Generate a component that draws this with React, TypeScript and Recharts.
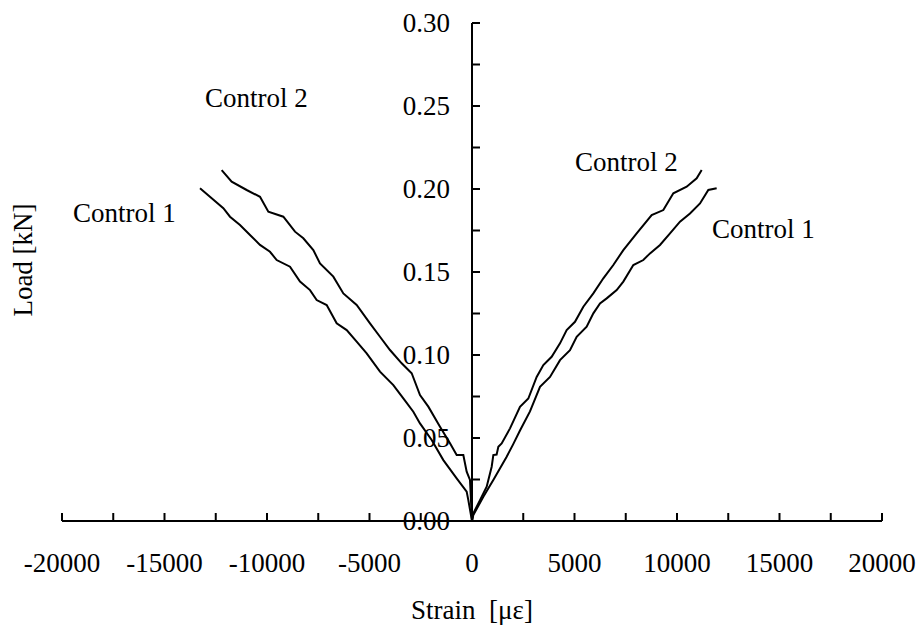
import React from "react";
import {
  LineChart,
  Line,
  XAxis,
  YAxis,
  ReferenceLine,
  ReferenceDot,
  Label,
} from "recharts";

// strain [µε] / load [kN] pairs
const control1Pos = [
  [0, 0], [65, 0.0036], [553, 0.0146], [1040, 0.0247], [1691, 0.0387],
  [2000, 0.046], [2341, 0.0545], [2829, 0.066], [3317, 0.0808], [3805, 0.0868],
  [4293, 0.0969], [4780, 0.1029], [5106, 0.111], [5594, 0.117], [5919, 0.1251],
  [6244, 0.1311], [6570, 0.1341], [7058, 0.1391], [7382, 0.1442], [7870, 0.1542],
  [8358, 0.1572], [8683, 0.1612], [9171, 0.1663], [9659, 0.1733], [10146, 0.1803],
  [10634, 0.1853], [11122, 0.1913], [11528, 0.1994], [11935, 0.2004],
];
const control2Pos = [
  [0, 0], [65, 0.0046], [390, 0.0126], [716, 0.0207], [960, 0.0327],
  [1040, 0.0397], [1200, 0.04], [1285, 0.0447], [1447, 0.0467], [1854, 0.0558],
  [2341, 0.0688], [2748, 0.0738], [3154, 0.0868], [3480, 0.0939], [3886, 0.0989],
  [4293, 0.107], [4618, 0.115], [5024, 0.12], [5431, 0.1291], [5919, 0.1371],
  [6407, 0.1462], [6894, 0.1542], [7382, 0.1632], [8033, 0.1733], [8764, 0.1843],
  [9333, 0.1873], [9821, 0.1974], [10472, 0.2014], [10960, 0.2064], [11204, 0.2114],
];
const control1Neg = [
  [0, 0], [-179, 0.0126], [-260, 0.0177], [-748, 0.0257], [-1398, 0.0367],
  [-1967, 0.0488], [-2537, 0.0588], [-2862, 0.0658], [-3350, 0.0739], [-3837, 0.0819],
  [-4488, 0.09], [-5138, 0.101], [-5626, 0.108], [-6113, 0.115], [-6601, 0.1191],
  [-7089, 0.1301], [-7577, 0.1331], [-7902, 0.1391], [-8390, 0.1442], [-8878, 0.1532],
  [-9528, 0.1572], [-9854, 0.1622], [-10341, 0.1663], [-10829, 0.1723], [-11317, 0.1783],
  [-11805, 0.1833], [-12130, 0.1884], [-12698, 0.1944], [-13268, 0.2004],
];
const control2Neg = [
  [0, 0], [-98, 0.0247], [-260, 0.0297], [-423, 0.0398], [-748, 0.0398],
  [-1073, 0.0468], [-1561, 0.0568], [-2130, 0.0689], [-2537, 0.0759], [-2942, 0.089],
  [-3430, 0.095], [-4000, 0.103], [-4488, 0.111], [-4976, 0.1191], [-5626, 0.1301],
  [-6276, 0.1371], [-6764, 0.1472], [-7415, 0.1552], [-7740, 0.1632], [-8228, 0.1703],
  [-8634, 0.1743], [-9203, 0.1833], [-9935, 0.1863], [-10341, 0.1953], [-10992, 0.1994],
  [-11724, 0.2044], [-12211, 0.2114],
];

const xTicks = [
  -20000, -17500, -15000, -12500, -10000, -7500, -5000, -2500, 0,
  2500, 5000, 7500, 10000, 12500, 15000, 17500, 20000,
];
const yTicks = [0, 0.025, 0.05, 0.075, 0.1, 0.125, 0.15, 0.175, 0.2, 0.225, 0.25, 0.275, 0.3];

const curveLabels = [
  { text: "Control 2", x: 5024, y: 0.2108 },
  { text: "Control 1", x: 11707, y: 0.1705 },
  { text: "Control 2", x: -13024, y: 0.2494 },
  { text: "Control 1", x: -19463, y: 0.1801 },
];

const toPoints = (arr: number[][]) => arr.map(([x, y]) => ({ x, y }));

const FONT = "'Liberation Serif', 'Times New Roman', serif";
const FS = 27;

const XTick = (props: any) => {
  const { x, y, payload } = props;
  const v = payload.value;
  return (
    <g>
      <line x1={x} y1={y} x2={x} y2={y - 8} stroke="#000" strokeWidth={2} />
      {v % 5000 === 0 && (
        <text x={x} y={y + 51} textAnchor="middle" fontFamily={FONT} fontSize={FS} fill="#000">
          {v}
        </text>
      )}
    </g>
  );
};

const YTickDot = (props: any) => {
  const { cx, cy, value } = props;
  const major = Math.round(value * 1000) % 50 === 0;
  return (
    <g>
      <line x1={cx} y1={cy} x2={cx + 8} y2={cy} stroke="#000" strokeWidth={2} />
      {major && (
        <text x={cx - 22} y={cy + 9} textAnchor="end" fontFamily={FONT} fontSize={FS} fill="#000">
          {value.toFixed(2)}
        </text>
      )}
    </g>
  );
};

export default function App() {
  return (
    <div style={{ position: "absolute", left: 0, top: 0, fontFamily: FONT }}>
      <LineChart
        width={920}
        height={628}
        margin={{ top: 23, right: 38, left: 0, bottom: 0 }}
      >
        <XAxis
          type="number"
          dataKey="x"
          domain={[-20000, 20000]}
          ticks={xTicks}
          interval={0}
          height={107}
          tickSize={0}
          tickMargin={0}
          tickLine={false}
          axisLine={{ stroke: "#000", strokeWidth: 2 }}
          tick={<XTick />}
          allowDataOverflow
        >
          <Label
            content={(p: any) => {
              const vb = p.viewBox;
              return (
                <text
                  x={vb.x + vb.width / 2}
                  y={vb.y + 98}
                  textAnchor="middle"
                  fontFamily={FONT}
                  fontSize={FS}
                  fill="#000"
                  style={{ whiteSpace: "pre" }}
                >
                  {"Strain  [με]"}
                </text>
              );
            }}
          />
        </XAxis>
        <YAxis
          type="number"
          dataKey="y"
          domain={[0, 0.3]}
          width={62}
          tick={false}
          tickLine={false}
          axisLine={false}
          allowDataOverflow
        >
          <Label
            content={(p: any) => {
              const vb = p.viewBox;
              const cy = vb.y + vb.height / 2 - 12;
              return (
                <text
                  x={32}
                  y={cy}
                  transform={`rotate(-90 32 ${cy})`}
                  textAnchor="middle"
                  fontFamily={FONT}
                  fontSize={FS}
                  fill="#000"
                >
                  Load [kN]
                </text>
              );
            }}
          />
        </YAxis>

        <Line data={toPoints(control1Pos)} dataKey="y" type="linear" stroke="#000" strokeWidth={2} dot={false} isAnimationActive={false} />
        <Line data={toPoints(control2Pos)} dataKey="y" type="linear" stroke="#000" strokeWidth={2} dot={false} isAnimationActive={false} />
        <Line data={toPoints(control1Neg)} dataKey="y" type="linear" stroke="#000" strokeWidth={2} dot={false} isAnimationActive={false} />
        <Line data={toPoints(control2Neg)} dataKey="y" type="linear" stroke="#000" strokeWidth={2} dot={false} isAnimationActive={false} />

        <ReferenceLine x={0} stroke="#000" strokeWidth={2} />

        {yTicks.map((v) => (
          <ReferenceDot
            key={"yt" + v}
            x={0}
            y={v}
            ifOverflow="visible"
            shape={(p: any) => <YTickDot {...p} value={v} />}
          />
        ))}

        {curveLabels.map((l, i) => (
          <ReferenceDot
            key={"lb" + i}
            x={l.x}
            y={l.y}
            ifOverflow="visible"
            shape={(p: any) => (
              <text x={p.cx} y={p.cy} fontFamily={FONT} fontSize={FS} fill="#000">
                {l.text}
              </text>
            )}
          />
        ))}
      </LineChart>
    </div>
  );
}
